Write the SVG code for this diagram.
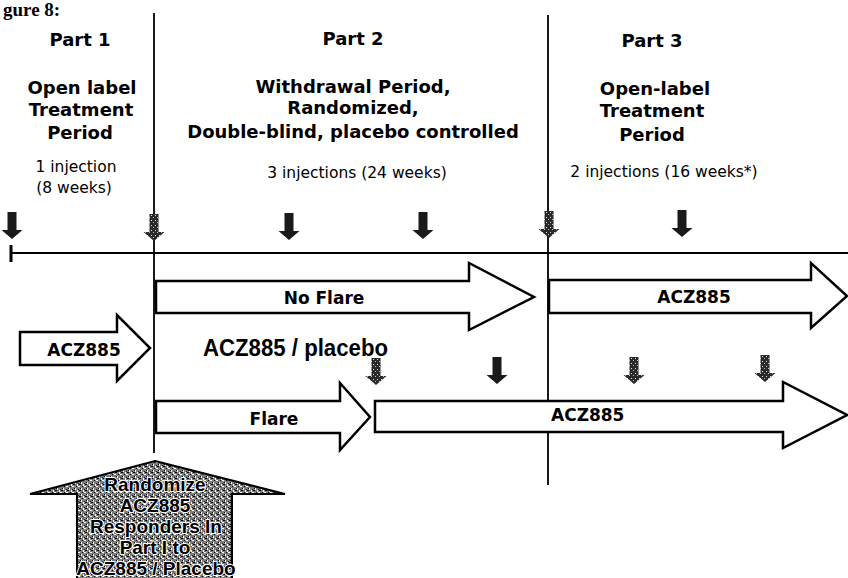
<svg xmlns="http://www.w3.org/2000/svg" xmlns:xlink="http://www.w3.org/1999/xlink" width="848" height="578" viewBox="0 0 848 578">
<style>
.hdr{font-family:"DejaVu Sans",Verdana,sans-serif;font-weight:bold;font-size:18px;fill:#000;text-anchor:middle}
.reg{font-family:"DejaVu Sans",Verdana,sans-serif;font-size:15.5px;fill:#000;text-anchor:middle}
.lbl{font-family:"DejaVu Sans",Verdana,sans-serif;font-weight:bold;font-size:17px;fill:#000}
.big{font-family:"Liberation Sans",Arial,sans-serif;font-weight:bold;font-size:24px;fill:#000}
.rnd{font-family:"Liberation Sans",Arial,sans-serif;font-weight:bold;font-size:19px;fill:#000;text-anchor:middle;stroke:#fff;stroke-width:2px;paint-order:stroke;stroke-linejoin:round}
.arr{fill:#fff;stroke:#000;stroke-width:2.5;stroke-linejoin:miter}
.ln{stroke:#000;stroke-width:1.8;fill:none}
.inj{fill:#1a1a1a}
.injl{fill:url(#speck2)}
</style>
<defs>
<pattern id="speck" width="6" height="6" patternUnits="userSpaceOnUse">
<rect width="6" height="6" fill="#7d7d7d"/>
<rect x="0" y="0" width="2" height="1" fill="#fff"/>
<rect x="3" y="2" width="1" height="2" fill="#fff"/>
<rect x="1" y="4" width="2" height="1" fill="#000"/>
<rect x="4" y="0" width="1" height="1" fill="#000"/>
<rect x="5" y="4" width="1" height="2" fill="#fff"/>
<rect x="2" y="2" width="1" height="1" fill="#000"/>
<rect x="0" y="3" width="1" height="1" fill="#222"/>
</pattern>
<pattern id="speck2" width="4" height="5" patternUnits="userSpaceOnUse">
<rect width="4" height="5" fill="#2a2a2a"/>
<rect x="1" y="1" width="1" height="1" fill="#ddd"/>
<rect x="3" y="3" width="1" height="1" fill="#bbb"/>
</pattern>
<path id="injp" d="M-4.5,0 H4.5 V18 H10.5 L0,27 L-10.5,18 H-4.5 Z"/>
</defs>

<text x="3" y="16" font-family="Liberation Serif,serif" font-weight="bold" font-size="19">gure 8:</text>

<g id="connectors">
<line class="ln" x1="154" y1="13" x2="154" y2="453"/>
<line class="ln" x1="548" y1="15" x2="548" y2="485"/>
<line class="ln" x1="11" y1="253" x2="848" y2="253"/>
<line x1="11" y1="245" x2="11" y2="262" stroke="#000" stroke-width="3"/>
</g>

<g id="part1-header">
<text class="hdr" x="80" y="46">Part 1</text>
<text class="hdr" x="82" y="94">Open label</text>
<text class="hdr" x="81" y="116">Treatment</text>
<text class="hdr" x="80" y="139">Period</text>
<text class="reg" x="76" y="172">1 injection</text>
<text class="reg" x="74" y="193">(8 weeks)</text>
</g>

<g id="part2-header">
<text class="hdr" x="353" y="45">Part 2</text>
<text class="hdr" x="353" y="93">Withdrawal Period,</text>
<text class="hdr" x="353" y="114">Randomized,</text>
<text class="hdr" x="353" y="138">Double-blind, placebo controlled</text>
<text class="reg" x="357" y="178">3 injections (24 weeks)</text>
</g>

<g id="part3-header">
<text class="hdr" x="652" y="47">Part 3</text>
<text class="hdr" x="655" y="95">Open-label</text>
<text class="hdr" x="652" y="117">Treatment</text>
<text class="hdr" x="652" y="141">Period</text>
<text class="reg" x="664" y="177">2 injections (16 weeks*)</text>
</g>

<g id="injections">
<use href="#injp" class="inj" transform="translate(12,212)"/>
<use href="#injp" class="injl" transform="translate(154,214)"/>
<use href="#injp" class="inj" transform="translate(289,213)"/>
<use href="#injp" class="inj" transform="translate(423,212)"/>
<use href="#injp" class="injl" transform="translate(549,211)"/>
<use href="#injp" class="inj" transform="translate(682,210)"/>
<use href="#injp" class="injl" transform="translate(376,358)"/>
<use href="#injp" class="inj" transform="translate(497,357)"/>
<use href="#injp" class="injl" transform="translate(634,357)"/>
<use href="#injp" class="injl" transform="translate(765,355)"/>
</g>

<g id="no-flare">
<path class="arr" d="M156,281 H469 V263 L534,297 L469,330 V313 H156 Z"/>
<text class="lbl" x="324" y="304" text-anchor="middle">No Flare</text>
</g>

<g id="part3-acz885">
<path class="arr" d="M549,280 H811 V263 L847,296 L811,328 V313 H549 Z"/>
<text class="lbl" x="694" y="303" text-anchor="middle">ACZ885</text>
</g>

<g id="part1-acz885">
<path class="arr" d="M20,332 H117 V315 L150,348 L117,381 V365 H20 Z"/>
<text class="lbl" x="84" y="356" text-anchor="middle">ACZ885</text>
</g>

<g id="acz-placebo">
<text class="big" x="203" y="356" textLength="185" lengthAdjust="spacingAndGlyphs">ACZ885 / placebo</text>
</g>

<g id="flare">
<path class="arr" d="M156,401 H340 V383 L370,417 L340,450 V433 H156 Z"/>
<text class="lbl" x="274" y="425" text-anchor="middle">Flare</text>
</g>

<g id="long-acz885">
<path class="arr" d="M375,401 H783 V382 L847,415 L783,448 V432 H375 Z"/>
<text class="lbl" x="551" y="421">ACZ885</text>
</g>

<g id="randomize">
<path d="M155,461 L285,494 H232 V580 H77 V494 H30 Z" fill="url(#speck)" stroke="#000" stroke-width="2"/>
<text class="rnd" x="155" y="491">Randomize</text>
<text class="rnd" x="155" y="512">ACZ885</text>
<text class="rnd" x="156" y="533">Responders In</text>
<text class="rnd" x="155" y="554">Part I to</text>
<text class="rnd" x="156" y="575">ACZ885 / Placebo</text>
</g>
</svg>
